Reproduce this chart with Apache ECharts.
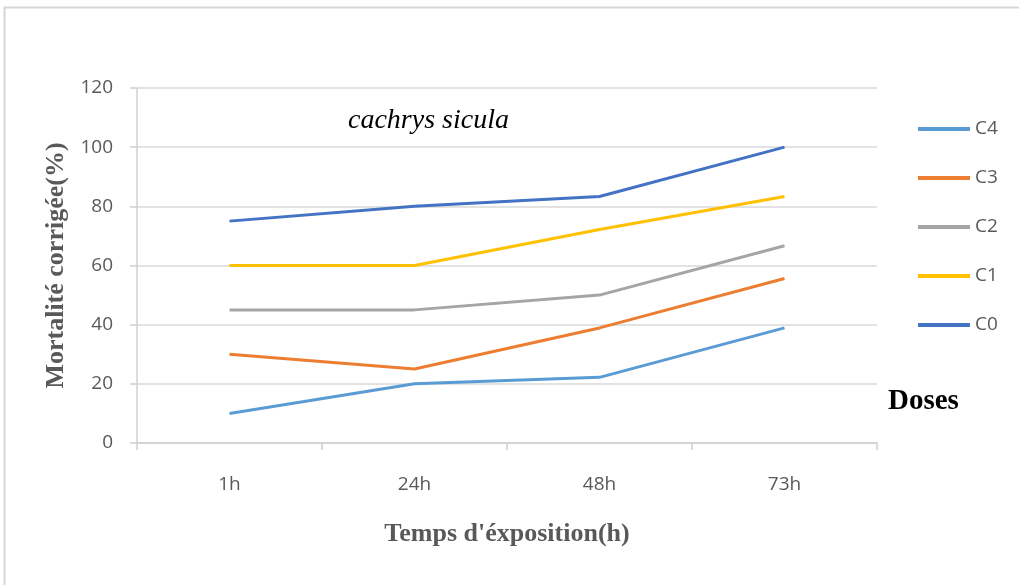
<!DOCTYPE html>
<html>
<head>
<meta charset="utf-8">
<script src="https://cdn.jsdelivr.net/npm/echarts@6/dist/echarts.min.js"></script>
<style>html,body{margin:0;padding:0;background:#fff}#c{width:1019px;height:585px}</style>
</head>
<body>
<div id="c"></div>
<script>
const categories = ['1h', '24h', '48h', '73h'];
const seriesNames = ['C0', 'C1', 'C2', 'C3', 'C4'];
const C0 = [75, 80, 83.3, 100];
const C1 = [60, 60, 72.2, 83.3];
const C2 = [45, 45, 50, 66.7];
const C3 = [30, 25, 38.9, 55.6];
const C4 = [10, 20, 22.2, 38.9];
const yTicks = [0, 20, 40, 60, 80, 100, 120];
const colors = {C0: '#4472C4', C1: '#FFC000', C2: '#A5A5A5', C3: '#ED7D31', C4: '#5B9BD5'};
const values = {C0, C1, C2, C3, C4};

const chart = echarts.init(document.getElementById('c'));
const tickFont = '"Open Sans", "Liberation Sans", sans-serif';
chart.setOption({
  animation: false,
  backgroundColor: '#fff',
  grid: {left: 137, right: 142, top: 88, bottom: 142},
  legend: {
    data: ['C4', 'C3', 'C2', 'C1', 'C0'],
    orient: 'vertical',
    left: 918, top: 119,
    padding: 0,
    icon: 'rect',
    itemWidth: 52, itemHeight: 4,
    itemGap: 29,
    textStyle: {fontFamily: tickFont, fontSize: 19, color: '#595959', lineHeight: 20, padding: [0, 0, 0, 0]}
  },
  xAxis: {
    type: 'category',
    data: categories,
    boundaryGap: true,
    axisLine: {lineStyle: {color: '#d0d0d0', width: 1.5}},
    axisTick: {show: true, length: 7, lineStyle: {color: '#d0d0d0', width: 1.5}},
    axisLabel: {fontFamily: tickFont, fontSize: 19, color: '#595959', margin: 32},
    name: "Temps d'éxposition(h)",
    nameLocation: 'middle',
    nameGap: 78,
    nameTextStyle: {fontFamily: '"Liberation Serif", serif', fontWeight: 'bold', fontSize: 26, color: '#595959'}
  },
  yAxis: {
    type: 'value',
    min: yTicks[0], max: yTicks[yTicks.length - 1], interval: 20,
    axisLine: {show: true, lineStyle: {color: '#d0d0d0', width: 1.5}},
    axisTick: {show: true, length: 7, lineStyle: {color: '#d0d0d0', width: 1.5}},
    splitLine: {lineStyle: {color: '#d9d9d9', width: 1.5}},
    axisLabel: {fontFamily: tickFont, fontSize: 19, color: '#595959', margin: 24},
    name: 'Mortalité corrigée(%)',
    nameLocation: 'middle',
    nameGap: 67,
    nameTextStyle: {fontFamily: '"Liberation Serif", serif', fontWeight: 'bold', fontSize: 26, color: '#595959'}
  },
  graphic: [
    {type: 'rect', shape: {x: 4.5, y: 7.5, width: 1200, height: 800}, style: {fill: 'none', stroke: '#d6d6d6', lineWidth: 2}, silent: true},
    {type: 'text', left: 348, top: 107, style: {text: 'cachrys sicula', font: 'italic 28px "Liberation Serif", serif', fill: '#000'}},
    {type: 'text', left: 888, top: 387, style: {text: 'Doses', font: 'bold 29px "Liberation Serif", serif', fill: '#000'}}
  ],
  series: seriesNames.map(n => ({
    name: n,
    type: 'line',
    data: values[n],
    symbol: 'none',
    lineStyle: {color: colors[n], width: 3},
    itemStyle: {color: colors[n]}
  }))
});
</script>
</body>
</html>
